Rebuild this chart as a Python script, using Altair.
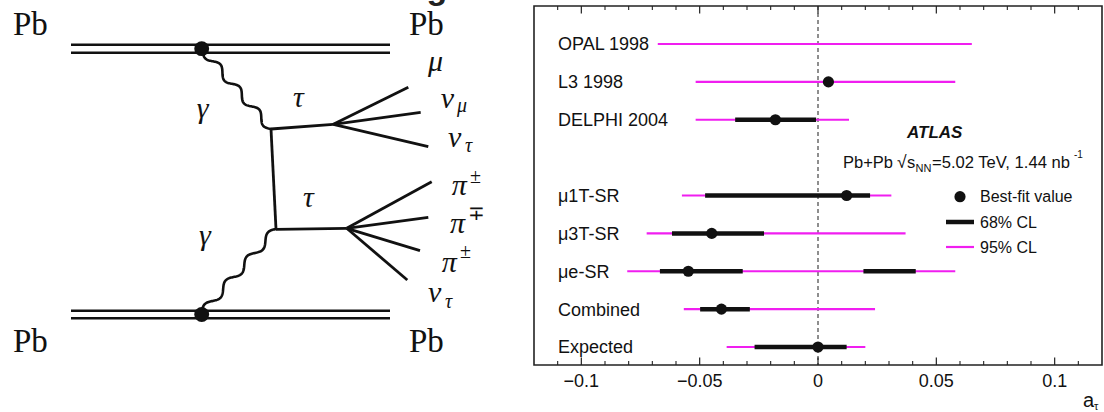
import altair as alt
import numpy as np
import pandas as pd

# ---------------- forest plot values ----------------
labels = ["OPAL 1998", "L3 1998", "DELPHI 2004", "μ1T-SR", "μ3T-SR", "μe-SR", "Combined", "Expected"]
best_fit = [None, 0.0044, -0.018, 0.0121, -0.0449, -0.0548, -0.0408, 0.0]
cl95_low = [-0.0677, -0.0517, -0.0517, -0.0575, -0.0724, -0.0806, -0.0567, -0.0386]
cl95_high = [0.065, 0.058, 0.0131, 0.031, 0.037, 0.058, 0.0241, 0.020]
cl68_label = ["DELPHI 2004", "μ1T-SR", "μ3T-SR", "μe-SR", "μe-SR", "Combined", "Expected"]
cl68_low = [-0.035, -0.0477, -0.0617, -0.0668, 0.0192, -0.0498, -0.0268]
cl68_high = [-0.0008, 0.022, -0.0228, -0.0318, 0.0413, -0.0288, 0.0121]
row_order = ["OPAL 1998", "L3 1998", "DELPHI 2004", " ", "μ1T-SR", "μ3T-SR", "μe-SR", "Combined", "Expected"]
major_ticks = [-0.1, -0.05, 0.0, 0.05, 0.1]
major_tick_labels = ["−0.1", "−0.05", "0", "0.05", "0.1"]
minor_ticks = [-0.11, -0.09, -0.08, -0.07, -0.06, -0.04, -0.03, -0.02, -0.01,
               0.01, 0.02, 0.03, 0.04, 0.06, 0.07, 0.08, 0.09, 0.11]

# ---------------- Feynman diagram geometry ----------------
beam_y = [44.7, 52.7, 310.7, 318.3]
beam_x0 = [71, 71, 71, 71]
beam_x1 = [390, 390, 390, 390]
line_x0 = [271, 271, 333.3, 333.3, 333.3, 276, 346.7, 346.7, 346.7, 346.7]
line_y0 = [129, 129, 124.3, 124.3, 124.3, 229.3, 228.3, 228.3, 228.3, 228.3]
line_x1 = [276, 333.3, 408.3, 420.7, 428.3, 346.7, 431.7, 428.3, 420.0, 407.3]
line_y1 = [229.3, 124.3, 87.3, 112.3, 146.7, 228.3, 181.7, 217.3, 250.7, 280.0]
vertex_x = [201.7, 201.7]
vertex_y = [48.7, 314.5]
photon_start = [(203, 50), (276, 229)]
photon_end = [(271, 129), (202, 313)]

pb_text = ["Pb", "Pb", "Pb", "Pb"]
pb_x = [13, 409, 13, 409]
pb_y = [35, 35, 351.7, 351.7]
greek_text = ["γ", "γ", "τ", "τ", "μ", "ν", "ν", "π", "π", "π", "ν"]
greek_x = [196.7, 199, 293, 303, 428, 440.7, 448, 451.7, 450, 441.7, 428]
greek_y = [118.3, 245, 106.7, 206.7, 70.5, 108.3, 146.7, 195, 233, 271.7, 301.7]
sub_text = ["μ", "τ", "τ"]
sub_x = [457, 465, 445]
sub_y = [112, 152, 308]
sup_text = ["±", "∓", "±"]
sup_x = [470, 467.5, 460]
sup_y = [183, 220, 258]

INK = "#111111"
MAGENTA = "#f01ef0"
SANS = "Liberation Sans"
SERIF = "Liberation Serif"

# ================= left panel: diagram =================
sxd = alt.Scale(domain=[0, 520], nice=False, zero=False)
syd = alt.Scale(domain=[0, 412], nice=False, zero=False, reverse=True)


def XD(f):
    return alt.X(f, type="quantitative", scale=sxd, axis=None)


def YD(f):
    return alt.Y(f, type="quantitative", scale=syd, axis=None)


beams = pd.DataFrame({"x0": beam_x0, "x1": beam_x1, "y": beam_y})
lines = pd.DataFrame({"x0": line_x0, "y0": line_y0, "x1": line_x1, "y1": line_y1})
verts = pd.DataFrame({"x": vertex_x, "y": vertex_y})

# wavy photon propagators between the read end points (drawing style)
rows = []
for k, (p0, p1) in enumerate(zip(photon_start, photon_end)):
    p0 = np.array(p0, float)
    p1 = np.array(p1, float)
    d = p1 - p0
    n = np.array([-d[1], d[0]]) / np.hypot(*d)
    t = np.linspace(0, 1, 160)
    pts = p0[None, :] + t[:, None] * d[None, :] + (3.8 * np.sin(2 * np.pi * 3.5 * t))[:, None] * n[None, :]
    for i, (x, y) in enumerate(pts):
        rows.append({"seg": k, "i": i, "x": x, "y": y})
waves = pd.DataFrame(rows)

d_beams = alt.Chart(beams).mark_rule(color=INK, strokeWidth=2.6).encode(
    x=XD("x0"), x2="x1", y=YD("y"))
d_lines = alt.Chart(lines).mark_rule(color=INK, strokeWidth=2.8).encode(
    x=XD("x0"), x2="x1", y=YD("y0"), y2="y1")
d_waves = alt.Chart(waves).mark_line(color=INK, strokeWidth=2.6).encode(
    x=XD("x"), y=YD("y"), detail="seg:N", order="i:Q")
d_verts = alt.Chart(verts).mark_circle(color=INK, opacity=1, size=220).encode(
    x=XD("x"), y=YD("y"))
d_pb = alt.Chart(pd.DataFrame({"t": pb_text, "x": pb_x, "y": pb_y})).mark_text(
    font=SERIF, fontSize=33, align="left", baseline="alphabetic", color=INK).encode(
    x=XD("x"), y=YD("y"), text="t:N")
d_greek = alt.Chart(pd.DataFrame({"t": greek_text, "x": greek_x, "y": greek_y})).mark_text(
    font=SERIF, fontSize=30, fontStyle="italic", align="left", baseline="alphabetic", color=INK).encode(
    x=XD("x"), y=YD("y"), text="t:N")
d_sub = alt.Chart(pd.DataFrame({"t": sub_text, "x": sub_x, "y": sub_y})).mark_text(
    font=SERIF, fontSize=20, fontStyle="italic", align="left", baseline="alphabetic", color=INK).encode(
    x=XD("x"), y=YD("y"), text="t:N")
d_sup = alt.Chart(pd.DataFrame({"t": sup_text, "x": sup_x, "y": sup_y})).mark_text(
    font=SERIF, fontSize=20, align="left", baseline="alphabetic", color=INK).encode(
    x=XD("x"), y=YD("y"), text="t:N")
# cut-off glyph of a heading above the figure (only its lowest part is visible)
d_cut = alt.Chart(alt.Data(values=[{}])).mark_text(
    text="g", font=SANS, fontSize=34, fontWeight="bold", align="center", baseline="alphabetic",
    color="#222222", clip=True).encode(x=alt.value(437), y=alt.value(-1))

left = alt.layer(d_beams, d_lines, d_waves, d_verts, d_pb, d_greek, d_sub, d_sup, d_cut).properties(
    width=520, height=412)

# ================= right panel: forest plot =================
xs = alt.Scale(domain=[-0.12, 0.12], nice=False, zero=False)
ys = alt.Scale(type="point", domain=row_order, range=[44, 347], padding=0)
one = alt.Data(values=[{}])


def XR(f):
    return alt.X(f, type="quantitative", scale=xs, axis=None)


def YR(f):
    return alt.Y(f, type="nominal", scale=ys, axis=None)


def note(text, x, y, size, **kw):
    return alt.Chart(one).mark_text(text=text, fontSize=size, font=SANS, align="left",
                                    baseline="alphabetic", color=INK, **kw).encode(
        x=alt.value(x), y=alt.value(y))


df95 = pd.DataFrame({"label": labels, "lo": cl95_low, "hi": cl95_high})
df68 = pd.DataFrame({"label": cl68_label, "lo": cl68_low, "hi": cl68_high})
dfpt = pd.DataFrame({"label": labels, "v": best_fit}).dropna()
dfmaj = pd.DataFrame({"t": major_ticks, "lab": major_tick_labels})
dfmin = pd.DataFrame({"t": minor_ticks})

zero_line = alt.Chart(one).mark_rule(color="#444444", strokeWidth=1.2, strokeDash=[4, 3]).encode(
    x=alt.datum(0, type="quantitative", scale=xs, axis=None), y=alt.value(6), y2=alt.value(365))
r95 = alt.Chart(df95).mark_rule(color=MAGENTA, strokeWidth=2.2).encode(
    x=XR("lo"), x2="hi", y=YR("label"))
r68 = alt.Chart(df68).mark_rule(color=INK, strokeWidth=4.5).encode(
    x=XR("lo"), x2="hi", y=YR("label"))
pts = alt.Chart(dfpt).mark_circle(color=INK, opacity=1, size=125).encode(
    x=XR("v"), y=YR("label"))
row_txt = alt.Chart(df95).mark_text(font=SANS, fontSize=18, align="left", baseline="alphabetic",
                                    dy=6.4, color=INK).encode(
    x=alt.value(24), y=YR("label"), text="label:N")

frame = alt.Chart(one).mark_rect(fillOpacity=0, stroke="#222222", strokeWidth=1.6).encode(
    x=alt.value(0), x2=alt.value(568), y=alt.value(6), y2=alt.value(365))
tk_top = alt.Chart(dfmaj).mark_rule(color="#222222", strokeWidth=1.2).encode(
    x=XR("t"), y=alt.value(6), y2=alt.value(13.5))
tk_bot = alt.Chart(dfmaj).mark_rule(color="#222222", strokeWidth=1.2).encode(
    x=XR("t"), y=alt.value(365), y2=alt.value(357.5))
mt_top = alt.Chart(dfmin).mark_rule(color="#222222", strokeWidth=1.1).encode(
    x=XR("t"), y=alt.value(6), y2=alt.value(10))
mt_bot = alt.Chart(dfmin).mark_rule(color="#222222", strokeWidth=1.1).encode(
    x=XR("t"), y=alt.value(365), y2=alt.value(361))
tk_lab = alt.Chart(dfmaj).mark_text(font=SANS, fontSize=18, align="center", baseline="alphabetic",
                                    color=INK).encode(
    x=XR("t"), y=alt.value(386.5), text="lab:N")

# legend
leg_pt = alt.Chart(one).mark_circle(color=INK, opacity=1, size=125).encode(
    x=alt.value(426), y=alt.value(196.7))
leg_68 = alt.Chart(one).mark_rule(color=INK, strokeWidth=4.5).encode(
    x=alt.value(412), x2=alt.value(440), y=alt.value(222))
leg_95 = alt.Chart(one).mark_rule(color=MAGENTA, strokeWidth=2.2).encode(
    x=alt.value(412), x2=alt.value(440), y=alt.value(247))

notes = [
    note("Best-fit value", 446, 202.4, 16),
    note("68% CL", 446, 227.7, 16),
    note("95% CL", 446, 252.7, 16),
    note("ATLAS", 373, 137.8, 17, fontWeight="bold", fontStyle="italic"),
    note("Pb+Pb", 309, 168, 16.5),
    note("√", 363, 168, 17.5),
    note("s", 373, 168, 16.5),
    note("NN", 381.5, 171.5, 11),
    note("=5.02 TeV, 1.44 nb", 398, 168, 16.6),
    note("-1", 540, 158, 10),
    note("a", 549, 406.5, 20),
    note("τ", 560, 409.5, 11),
]

right = alt.layer(zero_line, r95, r68, pts, row_txt, frame, tk_top, tk_bot, mt_top, mt_bot,
                  tk_lab, leg_pt, leg_68, leg_95, *notes).properties(width=568, height=366)

chart = alt.hconcat(left, right, spacing=13).properties(
    padding={"left": 0, "top": 0, "right": 0, "bottom": 0},
    background="white",
).configure_view(strokeWidth=0)

chart.save("out.html", embed_options={"renderer": "svg", "actions": False})
